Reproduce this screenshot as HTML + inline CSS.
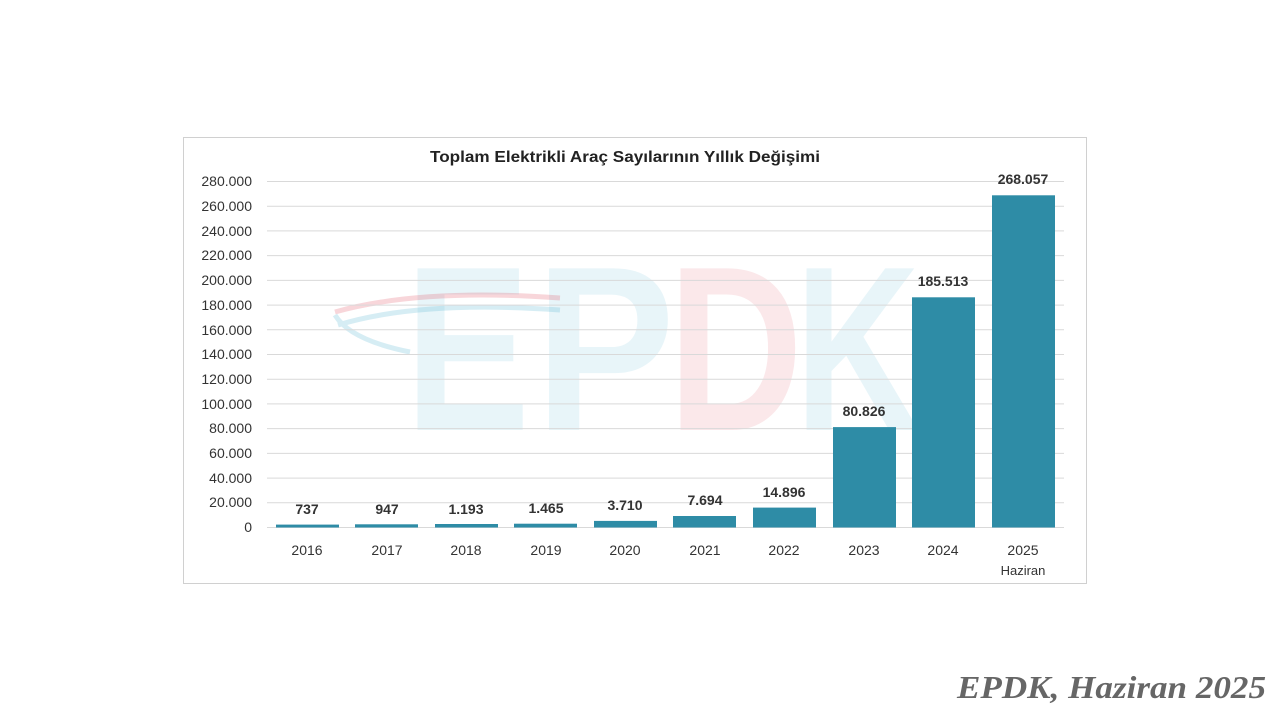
<!DOCTYPE html>
<html><head><meta charset="utf-8"><style>
body{margin:0;width:1280px;height:720px;background:#fff;overflow:hidden;font-family:"Liberation Sans",sans-serif}
</style></head><body>
<svg width="1280" height="720" xmlns="http://www.w3.org/2000/svg" font-family="Liberation Sans, sans-serif">
<rect x="183.5" y="137.5" width="903" height="446" fill="#fff" stroke="#d0d0d0"/>
<g font-weight="bold" font-size="235" opacity="0.12">
<text x="405" y="430" fill="#4ab0d0" textLength="125" lengthAdjust="spacingAndGlyphs">E</text>
<text x="535" y="430" fill="#4ab0d0" textLength="140" lengthAdjust="spacingAndGlyphs">P</text>
<text x="668" y="430" fill="#e0485a" textLength="135" lengthAdjust="spacingAndGlyphs">D</text>
<text x="795" y="430" fill="#4ab0d0" textLength="125" lengthAdjust="spacingAndGlyphs">K</text>
</g>
<g fill="none" opacity="0.22" stroke-width="5">
<path d="M560 298 Q420 288 335 312" stroke="#e0485a"/>
<path d="M560 310 Q420 300 338 325" stroke="#4ab0d0"/>
<path d="M335 315 Q350 340 410 352" stroke="#4ab0d0"/>
</g>
<text x="430" y="162" font-weight="bold" font-size="16" fill="#222" textLength="390" lengthAdjust="spacingAndGlyphs">Toplam Elektrikli Araç Sayılarının Yıllık Değişimi</text>
<g stroke="#d9d9d9" stroke-width="1">
<line x1="267" x2="1064" y1="181.5" y2="181.5"/><line x1="267" x2="1064" y1="206.2" y2="206.2"/>
<line x1="267" x2="1064" y1="230.9" y2="230.9"/><line x1="267" x2="1064" y1="255.6" y2="255.6"/>
<line x1="267" x2="1064" y1="280.4" y2="280.4"/><line x1="267" x2="1064" y1="305.1" y2="305.1"/>
<line x1="267" x2="1064" y1="329.8" y2="329.8"/><line x1="267" x2="1064" y1="354.5" y2="354.5"/>
<line x1="267" x2="1064" y1="379.2" y2="379.2"/><line x1="267" x2="1064" y1="403.9" y2="403.9"/>
<line x1="267" x2="1064" y1="428.6" y2="428.6"/><line x1="267" x2="1064" y1="453.4" y2="453.4"/>
<line x1="267" x2="1064" y1="478.1" y2="478.1"/><line x1="267" x2="1064" y1="502.8" y2="502.8"/>
<line x1="267" x2="1064" y1="527.5" y2="527.5"/>
</g>
<g font-size="14" fill="#333" text-anchor="end">
<text x="252" y="186">280.000</text><text x="252" y="211">260.000</text><text x="252" y="236">240.000</text>
<text x="252" y="260">220.000</text><text x="252" y="285">200.000</text><text x="252" y="310">180.000</text>
<text x="252" y="335">160.000</text><text x="252" y="359">140.000</text><text x="252" y="384">120.000</text>
<text x="252" y="409">100.000</text><text x="252" y="433">80.000</text><text x="252" y="458">60.000</text>
<text x="252" y="483">40.000</text><text x="252" y="507">20.000</text><text x="252" y="532">0</text>
</g>
<g fill="#2e8ca6">
<rect x="276" y="524.6" width="63" height="2.9"/>
<rect x="355" y="524.3" width="63" height="3.2"/>
<rect x="435" y="524" width="63" height="3.5"/>
<rect x="514" y="523.7" width="63" height="3.8"/>
<rect x="594" y="520.9" width="63" height="6.6"/>
<rect x="673" y="516" width="63" height="11.5"/>
<rect x="753" y="507.6" width="63" height="19.9"/>
<rect x="833" y="427.1" width="63" height="100.4"/>
<rect x="912" y="297.3" width="63" height="230.2"/>
<rect x="992" y="195.3" width="63" height="332.2"/>
</g>
<g font-size="14" font-weight="bold" fill="#333" text-anchor="middle">
<text x="307" y="514">737</text><text x="387" y="514">947</text><text x="466" y="514">1.193</text>
<text x="546" y="513">1.465</text><text x="625" y="510">3.710</text><text x="705" y="505">7.694</text>
<text x="784" y="497">14.896</text><text x="864" y="416">80.826</text><text x="943" y="286">185.513</text>
<text x="1023" y="184">268.057</text>
</g>
<g font-size="14" fill="#333" text-anchor="middle">
<text x="307" y="555">2016</text><text x="387" y="555">2017</text><text x="466" y="555">2018</text>
<text x="546" y="555">2019</text><text x="625" y="555">2020</text><text x="705" y="555">2021</text>
<text x="784" y="555">2022</text><text x="864" y="555">2023</text><text x="943" y="555">2024</text>
<text x="1023" y="555">2025</text><text x="1023" y="575" font-size="13">Haziran</text>
</g>
<text x="957" y="698" font-family="Liberation Serif, serif" font-style="italic" font-weight="bold" font-size="32" fill="#666" textLength="309" lengthAdjust="spacingAndGlyphs">EPDK, Haziran 2025</text>
</svg>
</body></html>
